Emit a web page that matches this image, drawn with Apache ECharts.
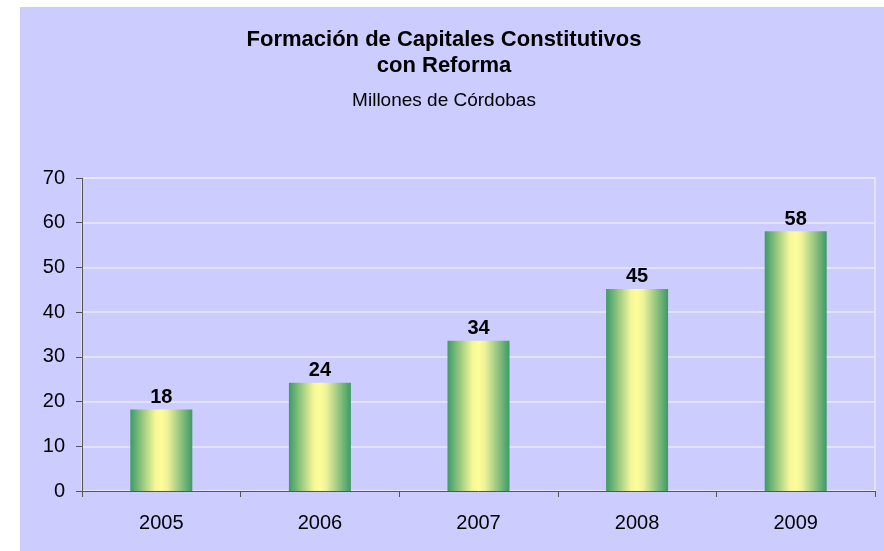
<!DOCTYPE html>
<html lang="es">
<head>
    <meta charset="UTF-8">
    <title>Formación de Capitales Constitutivos</title>
    <style>
        html, body { margin: 0; padding: 0; background: #ffffff; }
        #chart { position: absolute; left: 20px; top: 7px; width: 864px; height: 544px; background: #ccccfe; }
    </style>
</head>
<body>
    <div id="chart"></div>
    <script src="https://cdn.jsdelivr.net/npm/echarts@6/dist/echarts.min.js"></script>
    <script>
        // datos
        var years = ['2005', '2006', '2007', '2008', '2009'];
        var values = [18.2, 24.2, 33.6, 45.2, 58.1];
        var yTicks = { min: 0, max: 70, interval: 10 };

        var font = '"Liberation Sans", Arial, sans-serif';
        var myChart = echarts.init(document.getElementById('chart'));

        var barColor = new echarts.graphic.LinearGradient(0, 0, 1, 0, [
            { offset: 0, color: '#3d9a68' },
            { offset: 0.4, color: '#f4f698' },
            { offset: 0.5, color: '#fdfd98' },
            { offset: 0.6, color: '#f0f29a' },
            { offset: 1, color: '#3d9a68' }
        ]);

        var option = {
            animation: false,
            backgroundColor: '#ccccfe',
            title: {
                text: 'Formación de Capitales Constitutivos\ncon Reforma',
                subtext: 'Millones de Córdobas',
                left: 419,
                top: 15,
                textAlign: 'center',
                itemGap: 11,
                textStyle: { fontFamily: font, fontSize: 22, fontWeight: 'bold', color: '#000', lineHeight: 26 },
                subtextStyle: { fontFamily: font, fontSize: 19, color: '#000', lineHeight: 21 }
            },
            grid: {
                left: 62, right: 9, top: 171, bottom: 60,
                show: true, borderColor: '#ebe6f6', borderWidth: 1.5, backgroundColor: 'transparent'
            },
            xAxis: {
                type: 'category',
                data: years,
                axisLine: { lineStyle: { color: '#555555', width: 1 } },
                axisTick: { show: true, length: 6, lineStyle: { color: '#555555' } },
                axisLabel: { color: '#000', fontFamily: font, fontSize: 20, margin: 22 }
            },
            yAxis: {
                type: 'value',
                min: yTicks.min,
                max: yTicks.max,
                interval: yTicks.interval,
                axisLine: { show: true, lineStyle: { color: '#555555', width: 1 } },
                axisTick: { show: true, length: 6, lineStyle: { color: '#555555' } },
                axisLabel: { color: '#000', fontFamily: font, fontSize: 20, margin: 17 },
                splitLine: { lineStyle: { color: '#ebe8fa', width: 1.5 } }
            },
            series: [{
                type: 'bar',
                data: values,
                barWidth: 62,
                itemStyle: { color: barColor },
                label: {
                    show: true,
                    position: 'top',
                    distance: 2,
                    fontFamily: font,
                    fontSize: 20,
                    fontWeight: 'bold',
                    color: '#000',
                    formatter: function (p) { return Math.round(p.value); }
                }
            }]
        };
        myChart.setOption(option);
    </script>
</body>
</html>
